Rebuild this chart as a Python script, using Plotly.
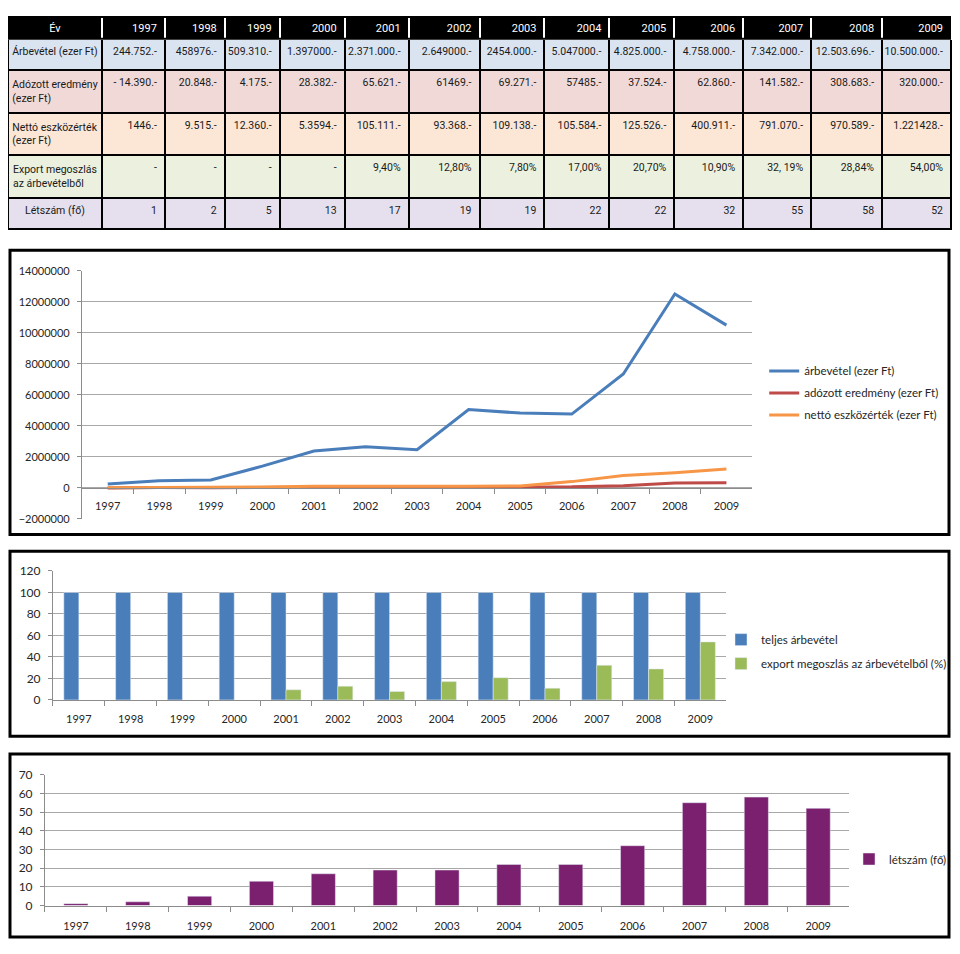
import plotly.graph_objects as go

# The page body adds an 8px margin, so the figure is sized to fit the
# 960x954 window and reference pixel positions are shifted by 8.
OFF = 8
FW, FH = 944, 938

def px(x):
    return (x - OFF) / FW

def py(y):
    return 1 - (y - OFF) / FH

# ---------------- data ----------------
years = ['1997', '1998', '1999', '2000', '2001', '2002', '2003',
         '2004', '2005', '2006', '2007', '2008', '2009']

arbevetel = [244752, 458976, 509310, 1397000, 2371000, 2649000, 2454000,
             5047000, 4825000, 4758000, 7342000, 12503696, 10500000]
adozott = [-14390, 20848, 4175, 28382, 65621, 61469, 69271,
           57485, 37524, 62860, 141582, 308683, 320000]
netto = [1446, 9515, 12360, 53594, 105111, 93368, 109138,
         105584, 125526, 400911, 791070, 970589, 1221428]
teljes = [100, 100, 100, 100, 100, 100, 100, 100, 100, 100, 100, 100, 100]
export_pct = [None, None, None, None, 9.40, 12.80, 7.80,
              17.00, 20.70, 10.90, 32.19, 28.84, 54.00]
letszam = [1, 2, 5, 13, 17, 19, 19, 22, 22, 32, 55, 58, 52]

# table text (as printed)
row_labels = ['Árbevétel (ezer Ft)', 'Adózott eredmény<br>(ezer Ft)',
              'Nettó eszközérték<br>(ezer Ft)', 'Export megoszlás<br>az árbevételből',
              'Létszám (fő)']
arbevetel_txt = ['244.752.-', '458976.-', '509.310.-', '1.397000.-', '2.371.000.-',
                 '2.649000.-', '2454.000.-', '5.047000.-', '4.825.000.-', '4.758.000.-',
                 '7.342.000.-', '12.503.696.-', '10.500.000.-']
adozott_txt = ['- 14.390.-', '20.848.-', '4.175.-', '28.382.-', '65.621.-', '61469.-',
               '69.271.-', '57485.-', '37.524.-', '62.860.-', '141.582.-', '308.683.-',
               '320.000.-']
netto_txt = ['1446.-', '9.515.-', '12.360.-', '5.3594.-', '105.111.-', '93.368.-',
             '109.138.-', '105.584.-', '125.526.-', '400.911.-', '791.070.-',
             '970.589.-', '1.221428.-']
export_txt = ['-', '-', '-', '-', '9,40%', '12,80%', '7,80%', '17,00%', '20,70%',
              '10,90%', '32, 19%', '28,84%', '54,00%']

row_colors = ['#dae4f1', '#f0d9d7', '#fce6d6', '#ebf1de', '#e6e0ee']

BLUE, RED, ORANGE = '#4a7ebb', '#be4b48', '#f79646'
GREEN, PURPLE = '#9bbb59', '#7b1f6f'

TABLE_FONT = 'Roboto, sans-serif'
CHART_FONT = 'Lato, Carlito, Calibri, sans-serif'

NBSP = '\u00a0'

def nowrap(s):
    return s.replace(' ', NBSP)

fig = go.Figure()

# ---------------- table ----------------
cells_vals = [[nowrap(s) for s in row_labels]] + [
    [nowrap(arbevetel_txt[i]), nowrap(adozott_txt[i]), nowrap(netto_txt[i]),
     nowrap(export_txt[i]), str(letszam[i])]
    for i in range(len(years))
]
fill_cols = [row_colors for _ in range(len(years) + 1)]
aligns = ['center'] + ['right'] * len(years)
fig.add_trace(go.Table(
    domain=dict(x=[px(8), px(952)], y=[py(229), py(8)]),
    columnwidth=[94, 63, 60, 55, 65, 64, 71, 65, 65, 65, 69, 68, 71, 69],
    header=dict(
        values=['Év'] + years,
        fill=dict(color='black'),
        line=dict(color='white', width=2),
        font=dict(family=TABLE_FONT, size=11, color='white'),
        align=aligns,
        height=23,
    ),
    cells=dict(
        values=cells_vals,
        fill=dict(color=fill_cols),
        line=dict(color='black', width=2),
        font=dict(family=TABLE_FONT, size=10.5, color='#1a1a1a'),
        align=aligns,
        height=31,
    ),
))

# ---------------- chart 1: lines ----------------
for name, vals, col, g in [('árbevétel (ezer Ft)', arbevetel, BLUE, 'a'),
                           ('adózott eredmény (ezer Ft)', adozott, RED, 'b'),
                           ('nettó eszközérték (ezer Ft)', netto, ORANGE, 'c')]:
    fig.add_trace(go.Scatter(x=years, y=vals, mode='lines', name=name,
                             line=dict(color=col, width=3),
                             xaxis='x', yaxis='y', legend='legend', legendgroup=g))

# ---------------- chart 2: bars ----------------
fig.add_trace(go.Bar(x=years, y=teljes, name='teljes árbevétel', marker_color=BLUE,
                     width=0.29, offset=-0.29, xaxis='x2', yaxis='y2',
                     legend='legend2', legendgroup='d'))
fig.add_trace(go.Bar(x=years, y=export_pct, name='export megoszlás az árbevételből (%)',
                     marker_color=GREEN, width=0.29, offset=0.0, xaxis='x2', yaxis='y2',
                     legend='legend2', legendgroup='e'))

# ---------------- chart 3: bars ----------------
fig.add_trace(go.Bar(x=years, y=letszam, name='létszám (fő)', marker_color=PURPLE,
                     width=0.39, offset=-0.195, xaxis='x3', yaxis='y3',
                     legend='legend3'))

GRID = '#a8a8a8'
AX = '#8c8c8c'
tickfont = dict(family=CHART_FONT, size=11, color='#262626')
tickfont12 = dict(family=CHART_FONT, size=12, color='#262626')

common_x = dict(type='category', range=[-0.5, 12.5], showgrid=False, showline=True,
                linecolor=AX, linewidth=1, ticks='outside', ticklen=5, tickcolor=AX,
                tickson='boundaries', tickfont=tickfont, fixedrange=True)
common_y = dict(showgrid=True, gridcolor=GRID, gridwidth=1, showline=True,
                linecolor=AX, linewidth=1, ticks='outside', ticklen=4, tickcolor=AX,
                zeroline=False, tickfont=tickfont, fixedrange=True, ticklabelstandoff=5)

legfont = dict(family=CHART_FONT, size=11.5, color='#262626')

fig.update_layout(
    width=FW, height=FH,
    margin=dict(l=0, r=0, t=0, b=0),
    paper_bgcolor='white', plot_bgcolor='white',
    barmode='overlay',
    showlegend=True,
    xaxis=dict(common_x, domain=[px(82), px(753)], anchor='free', position=py(488),
               ticklabelstandoff=7),
    yaxis=dict(common_y, domain=[py(519), py(267)], range=[-2000000, 14000000],
               dtick=2000000, tickformat='d', anchor='x'),
    xaxis2=dict(common_x, domain=[px(53), px(727)], anchor='y2', ticklabelstandoff=9),
    yaxis2=dict(common_y, domain=[py(703), py(572)], range=[0, 120], dtick=20,
                anchor='x2', tickfont=tickfont12),
    xaxis3=dict(common_x, domain=[px(45), px(850)], anchor='y3', ticklabelstandoff=10),
    yaxis3=dict(common_y, domain=[py(912), py(779)], range=[0, 70], dtick=10,
                anchor='x3', tickfont=tickfont12),
    legend=dict(x=px(765), y=py(354), xanchor='left', yanchor='top', font=legfont,
                bgcolor='rgba(0,0,0,0)', tracegroupgap=3, itemwidth=30),
    legend2=dict(x=px(722), y=py(627), xanchor='left', yanchor='top', font=legfont,
                 bgcolor='rgba(0,0,0,0)', tracegroupgap=5, itemwidth=30),
    legend3=dict(x=px(850), y=py(850), xanchor='left', yanchor='top', font=legfont,
                 bgcolor='rgba(0,0,0,0)', itemwidth=30),
    shapes=[
        dict(type='rect', xref='paper', yref='paper', x0=px(9), x1=px(951),
             y0=py(31), y1=py(9), line=dict(color='black', width=2)),
        dict(type='rect', xref='paper', yref='paper', x0=px(10), x1=px(950),
             y0=py(535), y1=py(246), line=dict(color='black', width=3)),
        dict(type='rect', xref='paper', yref='paper', x0=px(10), x1=px(950),
             y0=py(740), y1=py(552), line=dict(color='black', width=3)),
        dict(type='rect', xref='paper', yref='paper', x0=px(10), x1=px(950),
             y0=py(944), y1=py(758), line=dict(color='black', width=3)),
    ],
)

fig.write_html('out.html')
